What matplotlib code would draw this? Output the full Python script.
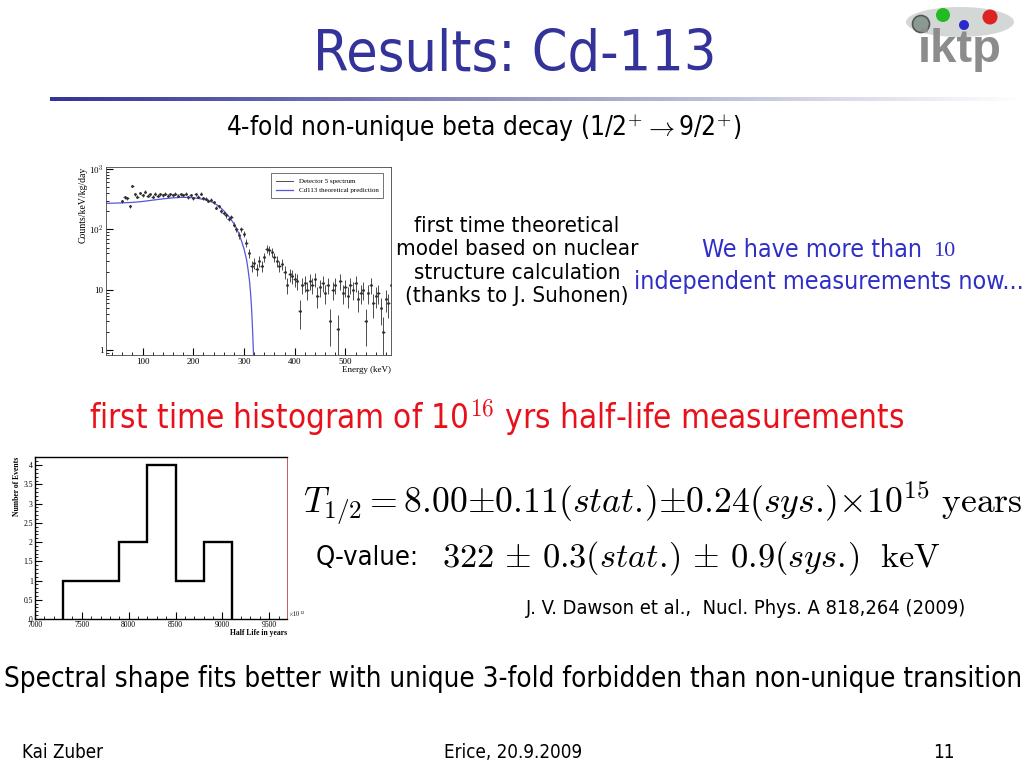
import numpy as np
import matplotlib
matplotlib.use("Agg")
import matplotlib.pyplot as plt
from matplotlib.patches import Ellipse, Circle
from matplotlib.colors import LinearSegmentedColormap
from matplotlib.ticker import MultipleLocator, FixedLocator, FixedFormatter, LogLocator, NullFormatter

plt.rcParams["font.family"] = ["DejaVu Sans"]
plt.rcParams["font.stretch"] = "condensed"
plt.rcParams["mathtext.fontset"] = "cm"

# Detector 5 spectrum (keV bin centres, counts/keV/kg/day)
energy = [60, 65, 70, 75, 80, 85, 90, 95, 100, 105, 110, 115, 120, 125, 130, 135,
          140, 145, 150, 155, 160, 165, 170, 175, 180, 185, 190, 195, 200, 205, 210,
          215, 220, 225, 230, 235, 240, 245, 250, 255, 260, 265, 270, 275, 280, 285,
          290, 295, 300, 305, 310, 315, 320, 325, 330, 335, 340, 345, 350, 355, 360,
          365, 370, 375, 380, 385, 390, 395, 400, 405, 410, 415, 420, 425, 430, 435,
          440, 445, 450, 455, 460, 465, 470, 475, 480, 485, 490, 495, 500, 505, 510,
          515, 520, 525, 530, 535, 540, 545, 550, 555, 560, 565, 570, 575, 580, 585, 590]
counts = [290, 340, 330, 240, 520, 380, 350, 400, 370, 420, 360, 380, 350, 390, 360, 380,
          370, 390, 360, 380, 370, 390, 360, 380, 370, 390, 340, 370, 330, 380, 350,
          390, 330, 320, 300, 310, 280, 230, 240, 200, 190, 170, 150, 160, 120, 100,
          80, 100, 85, 60, 40, 25, 28, 22, 30, 25, 35, 48, 45, 42, 35,
          30, 25, 27, 20, 12, 18, 17, 15, 14, 4.5, 12, 13, 10, 14, 12,
          15, 8, 11, 13, 9, 12, 3, 10, 12, 2.2, 14, 9, 11, 8, 12,
          10, 13, 7, 9, 10, 3, 9, 12, 6, 8, 9, 5, 2, 7, 6, 12]

# Cd113 theoretical prediction
theo_e = [30, 60, 80, 100, 120, 140, 160, 180, 200, 210, 220, 230, 240, 250, 260, 270,
          280, 285, 290, 295, 300, 305, 308, 311, 313, 315, 317, 318, 319]
theo_y = [270, 275, 280, 290, 305, 320, 333, 340, 335, 325, 315, 300, 275, 245, 205, 165,
          125, 105, 85, 65, 48, 32, 22, 14, 9, 5, 2.2, 1.3, 0.8]

# half-life histogram (x1e12 years)
hist_edges = [7300, 7600, 7900, 8200, 8500, 8800, 9100]
hist_counts = [1, 1, 2, 4, 1, 2]

fig = plt.figure(figsize=(10.24, 7.68), dpi=100)
bg = fig.add_axes([0, 0, 1, 1])
bg.axis("off")

title_blue = "#333399"
bg.text(515, 55, "Results: Cd-113", ha="center", va="center", fontsize=41, color=title_blue)

# gradient rule under the title
cmap = LinearSegmentedColormap.from_list("rule", [title_blue, "#9c9cc4", "#ffffff"])
grad = np.linspace(0, 1, 256).reshape(1, -1)
bg.imshow(grad, cmap=cmap, extent=[50, 1024, 101.5, 97.5], aspect="auto", zorder=1)
bg.set_xlim(0, 1024)
bg.set_ylim(768, 0)

bg.text(484, 128, r"4-fold non-unique beta decay (1/2$^{+}$$\rightarrow$9/2$^{+}$)",
        ha="center", va="center", fontsize=18.8, color="black")

bg.text(517, 261, "first time theoretical\nmodel based on nuclear\nstructure calculation\n(thanks to J. Suhonen)",
        ha="center", va="center", fontsize=16, color="black", linespacing=1.22)

blue_txt = "#2f2fc8"
bg.text(929, 250, "We have more than ", ha="right", va="center", fontsize=18, color=blue_txt)
bg.text(933, 251, "10", ha="left", va="center", fontsize=16, color=blue_txt, family="Liberation Serif",
        fontstretch="normal")
bg.text(829, 282, "independent measurements now...", ha="center", va="center", fontsize=18, color=blue_txt)

bg.text(497, 418, r"first time histogram of 10$^{16}$ yrs half-life measurements",
        ha="center", va="center", fontsize=23.8, color="#e8101a")

bg.text(303, 503, r"$T_{1/2} = 8.00{\pm}0.11(stat.\!){\pm}0.24(sys.\!){\times}10^{15}\ \mathrm{years}$",
        ha="left", va="center", fontsize=25.7, color="black")
bg.text(316, 558, "Q-value:", ha="left", va="center", fontsize=19.5, color="black")
bg.text(442, 558, r"$322\,\pm\,0.3(stat.\!)\,\pm\,0.9(sys.\!)\ \ \mathrm{keV}$",
        ha="left", va="center", fontsize=24.7, color="black")
bg.text(746, 608, "J. V. Dawson et al.,  Nucl. Phys. A 818,264 (2009)",
        ha="center", va="center", fontsize=14.4, color="black")

bg.text(513, 679, "Spectral shape fits better with unique 3-fold forbidden than non-unique transition",
        ha="center", va="center", fontsize=19.9, color="black")

bg.text(22, 752, "Kai Zuber", ha="left", va="center", fontsize=13.5)
bg.text(513, 752, "Erice, 20.9.2009", ha="center", va="center", fontsize=13.5)
bg.text(944, 752, "11", ha="center", va="center", fontsize=13.5)

# iktp logo
bg.add_patch(Ellipse((960, 22), 108, 30, facecolor="#cfd3d1", edgecolor="none", alpha=0.9, zorder=2))
bg.add_patch(Circle((921, 24), 8.5, facecolor="#8a9a90", edgecolor="#555555", lw=1.2, zorder=3))
bg.add_patch(Circle((943, 15), 7, facecolor="#22bb22", edgecolor="none", zorder=3))
bg.add_patch(Circle((964, 25), 5, facecolor="#2a2acc", edgecolor="none", zorder=3))
bg.add_patch(Circle((990, 17), 7.5, facecolor="#dd2222", edgecolor="none", zorder=3))
bg.text(960, 50, "iktp", ha="center", va="center", fontsize=34, fontweight="bold",
        color="#8c8c8c", family="Liberation Sans", fontstretch="normal", zorder=4)

serif = "Liberation Serif"

# spectrum panel
ax1 = fig.add_axes([106 / 1024, 1 - 355 / 768, 285 / 1024, 188 / 768])
c = np.array(counts, dtype=float)
err = np.sqrt(c / 0.9)
h_data = ax1.errorbar(energy, counts, yerr=err, xerr=2.5, fmt=".", ms=2, color="#303030",
                      elinewidth=0.6, capsize=0)
h_theo, = ax1.plot(theo_e, theo_y, color="#5555dd", lw=0.9)
ax1.set_yscale("log")
ax1.set_xlim(28, 590)
ax1.set_ylim(0.83, 1080)
ax1.yaxis.set_major_locator(FixedLocator([1, 10, 100, 1000]))
ax1.yaxis.set_major_formatter(FixedFormatter(["1", "10", r"$10^{2}$", r"$10^{3}$"]))
ax1.yaxis.set_minor_locator(LogLocator(base=10, subs=np.arange(2, 10)))
ax1.yaxis.set_minor_formatter(NullFormatter())
ax1.xaxis.set_major_locator(MultipleLocator(100))
ax1.xaxis.set_minor_locator(MultipleLocator(20))
ax1.tick_params(which="both", direction="in", top=False, right=False, labelsize=6.5, pad=2)
ax1.tick_params(which="major", length=5)
ax1.tick_params(which="minor", length=2.5)
for lab in ax1.get_xticklabels() + ax1.get_yticklabels():
    lab.set_family(serif)
ax1.set_xlabel("Energy (keV)", loc="right", fontsize=6.5, family=serif, labelpad=0)
ax1.set_ylabel("Counts/keV/kg/day", loc="top", fontsize=7, family=serif, labelpad=1)
for s in ax1.spines.values():
    s.set_linewidth(0.6)
    s.set_color("#444444")
leg = ax1.legend([h_data.lines[0], h_theo], ["Detector 5 spectrum", "Cd113 theoretical prediction"],
                 loc="upper right", prop={"family": serif, "size": 5},
                 frameon=True, fancybox=False, edgecolor="#333333", borderpad=0.7,
                 handlelength=2.5, bbox_to_anchor=(0.985, 0.985))
leg.get_frame().set_linewidth(0.6)
leg.legend_handles[0].set_linestyle("-")
leg.legend_handles[0].set_linewidth(0.6)
leg.legend_handles[0].set_marker("")

# half-life histogram panel
ax2 = fig.add_axes([35 / 1024, 1 - 619 / 768, 252 / 1024, 162.3 / 768])
ax2.stairs(hist_counts, hist_edges, baseline=0, color="black", lw=1.7)
ax2.set_xlim(7000, 9690)
ax2.set_ylim(0, 4.22)
ax2.xaxis.set_major_locator(MultipleLocator(500))
ax2.xaxis.set_minor_locator(MultipleLocator(100))
ax2.yaxis.set_major_locator(FixedLocator([0, 0.5, 1, 1.5, 2, 2.5, 3, 3.5, 4]))
ax2.yaxis.set_major_formatter(FixedFormatter(["0", "0.5", "1", "1.5", "2", "2.5", "3", "3.5", "4"]))
ax2.yaxis.set_minor_locator(MultipleLocator(0.1))
ax2.tick_params(which="both", direction="in", top=False, right=False, labelsize=5.5, pad=1.5)
ax2.tick_params(which="major", length=5, width=0.8)
ax2.tick_params(which="minor", length=2.5, width=0.6)
for lab in ax2.get_xticklabels() + ax2.get_yticklabels():
    lab.set_family(serif)
ax2.set_xlabel("Half Life in years", loc="right", fontsize=5.5, family=serif,
               fontweight="bold", labelpad=0)
ax2.set_ylabel("Number of Events", loc="top", fontsize=5.5, family=serif,
               fontweight="bold", labelpad=2)
ax2.text(1.003, 0.03, r"$\times10^{12}$", transform=ax2.transAxes, fontsize=4.5,
         ha="left", va="center", family=serif)
for s in ax2.spines.values():
    s.set_linewidth(1.0)
ax2.spines["right"].set_color("#c04040")
ax2.spines["right"].set_linewidth(0.6)

fig.savefig("out.png", dpi=100)
